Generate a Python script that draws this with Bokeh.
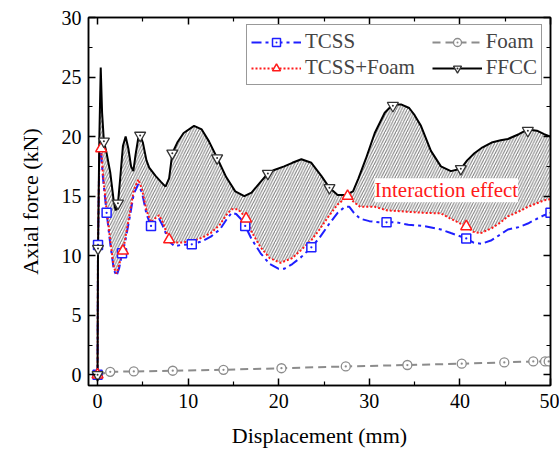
from bokeh.plotting import figure
from bokeh.models import (Range1d, LinearAxis, Legend, LegendItem, Label, FixedTicker,
                          CustomJSTickFormatter)
from bokeh.embed import file_html
from bokeh.resources import INLINE

# ---------------- data ----------------
ffcc_x = [0, 0.05, 0.2, 0.35, 0.5, 0.7, 1.0, 1.4, 1.8, 2.0, 2.25, 2.5, 2.8, 3.1, 3.4, 3.7,
          3.95, 4.2, 4.5, 4.7, 5.0, 5.4, 5.7, 6.4, 7.0, 7.5, 7.9, 8.25, 8.8, 9.5, 10.65,
          11.5, 12.3, 13.2, 14.2, 15.2, 16.2, 17.0, 18.0, 18.8, 19.5, 20.6, 21.5, 22.5,
          23.6, 24.7, 25.6, 26.5, 27.4, 28.2, 28.8, 29.6, 30.6, 31.7, 32.6, 33.5, 34.4,
          35.0, 35.7, 36.8, 37.9, 39.0, 40.1, 40.8, 41.6, 42.5, 43.5, 44.5, 45.3, 46.5,
          47.5, 48.5, 49.3, 50.0]
ffcc_y = [0, 10.6, 20.0, 25.8, 22.0, 19.6, 18.6, 17.0, 14.5, 13.8, 14.4, 16.5, 19.2, 20.0,
          19.0, 17.5, 17.1, 18.5, 19.9, 20.1, 19.5, 18.0, 17.4, 16.7, 16.2, 15.8, 16.5, 18.6,
          19.5, 20.3, 20.9, 20.6, 19.6, 18.2, 16.6, 15.4, 15.0, 15.3, 16.2, 16.9, 17.2, 17.5,
          17.8, 18.1, 17.8, 16.7, 15.7, 15.1, 15.1, 15.4, 16.5, 18.1, 20.3, 22.0, 22.7, 22.7,
          22.4, 21.8, 20.9, 18.8, 17.5, 17.1, 17.3, 18.0, 18.6, 19.1, 19.5, 19.7, 19.8, 20.2,
          20.6, 20.5, 20.2, 20.0]
ffcc_mx = [0, 0.05, 0.7, 2.25, 4.7, 8.25, 13.2, 18.8, 25.6, 32.6, 40.1, 47.5]
ffcc_my = [0, 10.6, 19.6, 14.4, 20.1, 18.6, 18.2, 16.9, 15.7, 22.6, 17.3, 20.5]

tcss_x = [0, 0.05, 0.2, 0.35, 0.6, 1.0, 1.4, 1.8, 2.1, 2.4, 2.7, 3.0, 3.5, 4.0, 4.5, 4.9,
          5.4, 5.9, 6.3, 6.8, 7.2, 7.9, 8.5, 9.2, 10.4, 11.5, 12.5, 13.5, 14.2, 14.8, 15.3,
          15.8, 16.3, 17.0, 18.0, 19.0, 20.0, 20.6, 21.5, 22.5, 23.6, 24.5, 25.5, 26.5,
          27.3, 27.8, 28.3, 29.0, 30.0, 31.0, 31.9, 33.0, 34.3, 36.0, 37.9, 39.0, 40.7,
          41.5, 42.4, 43.5, 44.5, 45.3, 46.5, 47.5, 48.5, 49.3, 50.0]
tcss_y = [0, 10.9, 18.5, 19.0, 16.5, 13.6, 11.0, 8.8, 8.3, 9.0, 10.2, 11.0, 13.0, 15.2,
          16.0, 15.3, 13.5, 12.5, 12.8, 13.1, 12.5, 11.2, 10.8, 10.9, 10.95, 11.2, 11.6,
          12.2, 13.0, 13.6, 13.5, 13.1, 12.5, 11.4, 10.2, 9.3, 8.9, 8.9, 9.3, 9.9, 10.7,
          11.5, 12.6, 13.6, 14.1, 14.1, 13.6, 13.1, 12.9, 12.8, 12.8, 12.8, 12.6, 12.5,
          12.2, 11.9, 11.45, 11.1, 11.0, 11.3, 11.8, 12.2, 12.4, 12.7, 13.1, 13.4, 13.6]
tcss_mx = [0, 0.05, 1.0, 2.7, 5.9, 10.4, 16.3, 23.6, 31.9, 40.7, 50.0]
tcss_my = [0, 10.9, 13.6, 10.2, 12.5, 10.95, 12.5, 10.7, 12.8, 11.45, 13.6]

tf_x = [0, 0.05, 0.2, 0.4, 0.6, 1.0, 1.4, 1.8, 2.1, 2.4, 2.8, 3.0, 3.5, 4.0, 4.5, 4.9,
        5.4, 5.9, 6.3, 6.8, 7.2, 7.9, 8.5, 9.2, 10.4, 11.5, 12.5, 13.5, 14.2, 14.8, 15.5,
        16.0, 16.4, 17.0, 18.0, 19.0, 20.2, 21.5, 22.5, 23.6, 24.5, 25.5, 26.5, 27.6,
        28.3, 29.0, 30.6, 32.0, 34.0, 36.0, 37.9, 39.0, 40.7, 41.5, 42.3, 43.5, 44.5,
        45.3, 46.5, 47.5, 48.5, 49.3, 50.0]
tf_y = [0, 11.0, 18.8, 19.0, 16.8, 13.8, 11.3, 9.0, 8.5, 9.3, 10.4, 11.2, 13.3, 15.5,
        16.4, 15.6, 13.8, 12.8, 13.1, 13.4, 12.8, 11.35, 11.1, 11.1, 11.2, 11.5, 11.9,
        12.6, 13.4, 13.9, 13.9, 13.5, 13.1, 12.0, 10.7, 9.8, 9.4, 9.8, 10.5, 11.3, 12.2,
        13.3, 14.3, 15.0, 14.5, 14.1, 14.1, 13.8, 13.7, 13.6, 13.55, 13.1, 12.45, 12.0,
        11.9, 12.3, 12.8, 13.3, 13.7, 14.1, 14.4, 14.65, 14.75]
tf_mx = [0, 0.4, 2.8, 7.9, 16.4, 27.6, 40.7]
tf_my = [0, 19.0, 10.4, 11.35, 13.1, 15.0, 12.45]

foam_x = [0, 1.4, 4.0, 8.3, 13.9, 20.3, 27.4, 34.2, 40.2, 44.9, 48.1, 49.4, 49.8]
foam_y = [0, 0.25, 0.28, 0.34, 0.42, 0.55, 0.7, 0.82, 0.93, 1.04, 1.12, 1.12, 1.12]

x_ticks = [0, 10, 20, 30, 40, 50]
x_minor = [5, 15, 25, 35, 45]
y_ticks = [0, 5, 10, 15, 20, 25, 30]
y_minor = [2.5, 7.5, 12.5, 17.5, 22.5, 27.5]

FONT = "Liberation Serif"
BLUE = "#1f1fff"
RED = "#ff1a1a"
GREY = "#8c8c8c"

p = figure(width=559, height=452, output_backend="svg", toolbar_location=None,
           x_range=Range1d(-1.0, 50), y_range=Range1d(-0.9, 30),
           min_border_left=88, min_border_right=9, min_border_top=17,
           min_border_bottom=67)
p.xgrid.visible = False
p.ygrid.visible = False
p.outline_line_color = "black"
p.outline_line_width = 1.5
p.background_fill_color = "white"
p.border_fill_color = "white"

# hatched interaction region between FFCC and TCSS+Foam
p.patch(ffcc_x + tf_x[::-1], ffcc_y + tf_y[::-1], fill_color=None, line_color=None,
        hatch_pattern="/", hatch_color="#7a7a7a", hatch_scale=5.5, hatch_weight=1)

foam_l = p.line(foam_x, foam_y, line_color=GREY, line_width=2, line_dash="8 5")
foam_m = p.scatter(foam_x, foam_y, marker="circle_dot", size=9, line_color=GREY,
                   fill_color="white", line_width=1.3)
tcss_l = p.line(tcss_x, tcss_y, line_color=BLUE, line_width=2, line_dash="10 4 3 4")
tf_l = p.line(tf_x, tf_y, line_color=RED, line_width=2, line_dash="2 2")
ffcc_l = p.line(ffcc_x, ffcc_y, line_color="black", line_width=2)
tcss_m = p.scatter(tcss_mx, tcss_my, marker="square_dot", size=9, line_color=BLUE,
                   fill_color="white", line_width=1.5)
tf_m = p.scatter(tf_mx, tf_my, marker="triangle", size=11, line_color=RED,
                 fill_color="white", line_width=1.5)
ffcc_m = p.scatter(ffcc_mx, ffcc_my, marker="inverted_triangle", size=11,
                   line_color="#333333", fill_color="white", line_width=1.3)
ffcc_d = p.scatter(ffcc_mx, ffcc_my, marker="dot", size=8, line_color="#333333",
                   fill_color="#333333")

lab = Label(x=38.5, y=15.5, text="Interaction effect", text_color=RED,
            text_font=FONT, text_font_size="21px", text_align="center",
            text_baseline="middle", background_fill_color="white",
            background_fill_alpha=1.0)
p.add_layout(lab)

xa = p.xaxis[0]
ya = p.yaxis[0]
for ax in (xa, ya):
    ax.major_tick_in = 7
    ax.major_tick_out = 0
    ax.minor_tick_in = 4
    ax.minor_tick_out = 0
    ax.axis_line_width = 1.5
    ax.major_tick_line_width = 1.5
    ax.minor_tick_line_width = 1.2
    ax.major_label_text_font = FONT
    ax.major_label_text_font_size = "20px"
    ax.major_label_text_color = "black"
    ax.axis_label_text_font = FONT
    ax.axis_label_text_font_size = "22px"
    ax.axis_label_text_font_style = "normal"
    ax.axis_label_text_color = "black"

xa.ticker = FixedTicker(ticks=x_ticks, minor_ticks=x_minor)
ya.ticker = FixedTicker(ticks=y_ticks, minor_ticks=y_minor)
xa.axis_label = "Displacement (mm)"
ya.axis_label = "Axial force (kN)"
xa.major_label_standoff = 8
ya.major_label_standoff = 7
xa.axis_label_standoff = 12
ya.axis_label_standoff = 16

top = LinearAxis(ticker=FixedTicker(ticks=x_ticks, minor_ticks=x_minor),
                 formatter=CustomJSTickFormatter(code="return '';"))
right = LinearAxis(ticker=FixedTicker(ticks=y_ticks, minor_ticks=y_minor),
                   formatter=CustomJSTickFormatter(code="return '';"))
for ax in (top, right):
    ax.major_tick_in = 7
    ax.major_tick_out = 0
    ax.minor_tick_in = 4
    ax.minor_tick_out = 0
    ax.axis_line_width = 1.5
    ax.major_tick_line_width = 1.5
    ax.minor_tick_line_width = 1.2
    ax.major_label_standoff = 0
p.add_layout(top, "above")
p.add_layout(right, "right")

NB = "\u00a0"
legend = Legend(items=[
    LegendItem(label="TCSS", renderers=[tcss_l, tcss_m]),
    LegendItem(label="TCSS+Foam" + NB * 3, renderers=[tf_l, tf_m]),
    LegendItem(label="Foam", renderers=[foam_l, foam_m]),
    LegendItem(label="FFCC", renderers=[ffcc_l, ffcc_m, ffcc_d]),
], orientation="vertical", nrows=2, location=(158, 300))
legend.label_text_font = FONT
legend.label_text_font_size = "21px"
legend.glyph_width = 50
legend.glyph_height = 20
legend.label_standoff = 4
legend.spacing = 1
legend.padding = 4
legend.margin = 0
legend.border_line_color = "#333333"
legend.border_line_width = 1.3
legend.background_fill_color = "white"
legend.background_fill_alpha = 1.0
p.add_layout(legend)

open("out.html", "w").write(file_html(p, INLINE))
